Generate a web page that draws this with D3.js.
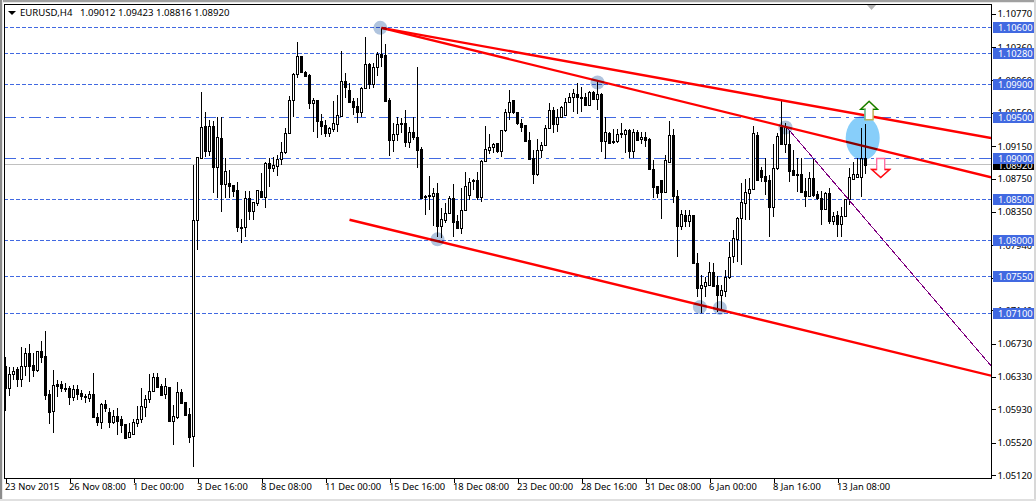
<!DOCTYPE html>
<html><head><meta charset="utf-8">
<style>
html,body{margin:0;padding:0;background:#fff;overflow:hidden}
svg{display:block}
text{font-family:"Noto Sans","Liberation Sans",sans-serif;font-size:10px}
</style>
<script src="https://cdn.jsdelivr.net/npm/d3@7"></script>
</head><body><svg id="c" width="1036" height="501"></svg>
<script>
const symbolTitle = "EURUSD,H4";
const ohlcTitle = "1.09012 1.09423 1.08816 1.08920";

const opens = [
1.06459,1.06186,1.06357,1.06418,1.06304,1.06459,1.06614,1.06471,1.06410,1.06638,1.06581,1.06116,
1.05912,1.06239,1.06235,1.06194,1.06186,1.06084,1.06173,1.06129,1.06092,1.06071,1.06116,1.05831,
1.05778,1.05994,1.05892,1.05778,1.05843,1.05814,1.05749,1.05586,1.05627,1.05765,1.05806,1.05961,
1.06051,1.06149,1.06320,1.06214,1.06112,1.06198,1.05790,1.05839,1.06141,1.06014,1.05871,1.05601,
1.08247,1.0901,1.0940,1.0909,1.0940,1.0889,1.0925,1.0869,1.0870,1.0868,1.0861,1.0816,
1.0816,1.0852,1.0836,1.0845,1.0860,1.0853,1.0894,1.0888,1.0891,1.0899,1.0908,1.0931,
1.0972,1.1003,1.1026,1.1006,1.1002,1.0968,1.0972,1.0946,1.0941,1.0931,1.0936,1.0942,
1.0952,1.0995,1.0984,1.0970,1.0964,1.0957,1.0986,1.1016,1.0991,1.1012,1.1028,1.1027,
1.0972,1.0923,1.0930,1.0942,1.0943,1.0920,1.0932,1.0926,1.0912,1.0854,1.0855,1.0854,
1.0858,1.0817,1.0825,1.0833,1.0852,1.0823,1.0815,1.0837,1.0855,1.0872,1.0874,1.0853,
1.0897,1.0910,1.0914,1.0919,1.0909,1.0935,1.0957,1.0972,1.0957,1.0943,1.0941,1.0923,
1.0901,1.0881,1.0910,1.0916,1.0937,1.0960,1.0942,1.0951,1.0953,1.0969,1.0975,1.0979,
1.0975,1.0975,1.0966,1.0981,1.0973,1.0979,1.0921,1.0931,1.0921,1.0921,1.0930,1.0930,
1.0935,1.0909,1.0932,1.0924,1.0926,1.0924,1.0887,1.0866,1.0874,1.0859,1.0896,1.0929,
1.0854,1.0817,1.0831,1.0823,1.0831,1.0772,1.0741,1.0744,1.0745,1.0761,1.0745,1.0733,
1.0738,1.0755,1.0781,1.0801,1.0827,1.0845,1.0858,1.0863,1.0929,1.0886,1.0878,1.0874,
1.0841,1.0888,1.0938,1.0918,1.0918,1.0886,1.0881,1.0881,1.0860,1.0854,1.0876,1.0857,
1.0852,1.0838,1.0858,1.0823,1.0831,1.0820,1.0829,1.0850,1.0875,1.0877,1.0877,1.09012];

const highs = [
1.06565,1.06451,1.06451,1.06451,1.06687,1.06675,1.06728,1.06614,1.06638,1.06761,1.06887,1.06165,
1.06410,1.06288,1.06275,1.06247,1.06214,1.06226,1.06222,1.06165,1.06116,1.06157,1.06377,1.05880,
1.06002,1.06043,1.05941,1.05920,1.05941,1.05847,1.05749,1.05757,1.05806,1.05969,1.06186,1.06104,
1.06361,1.06369,1.06377,1.06239,1.06308,1.06198,1.05982,1.06263,1.06173,1.06014,1.05941,1.08920,
1.09018,1.0981,1.0957,1.0947,1.0946,1.0951,1.0951,1.0901,1.0886,1.0868,1.0871,1.0826,
1.0860,1.0860,1.0847,1.0861,1.0882,1.0896,1.0901,1.0902,1.0904,1.0920,1.0937,1.0977,
1.1005,1.1043,1.1026,1.1007,1.1003,1.0974,1.0972,1.0955,1.0947,1.0938,1.0970,1.0978,
1.1032,1.1005,1.0992,1.0974,1.0974,1.0988,1.1049,1.1017,1.1017,1.1030,1.1060,1.1040,
1.0974,1.0943,1.0951,1.0949,1.0959,1.0938,1.0951,1.1012,1.0914,1.0855,1.0878,1.0864,
1.0870,1.0839,1.0845,1.0854,1.0869,1.0831,1.0864,1.0883,1.0876,1.0875,1.0883,1.0898,
1.0940,1.0930,1.0919,1.0919,1.0935,1.0961,1.0984,1.0972,1.0957,1.0948,1.0941,1.0933,
1.0910,1.0924,1.0920,1.0941,1.0968,1.0963,1.0961,1.0964,1.0974,1.0980,1.0985,1.0992,
1.0988,1.0980,1.0983,1.0983,1.0996,1.0980,1.0951,1.0933,1.0936,1.0936,1.0944,1.0936,
1.0936,1.0936,1.0935,1.0932,1.0932,1.0925,1.0898,1.0866,1.0874,1.0904,1.0946,1.0936,
1.0861,1.0837,1.0837,1.0837,1.0831,1.0784,1.0757,1.0755,1.0773,1.0772,1.0756,1.0745,
1.0763,1.0798,1.0812,1.0828,1.0870,1.0875,1.0876,1.0940,1.0933,1.0889,1.0901,1.0880,
1.0918,1.0931,1.0970,1.0943,1.0935,1.0910,1.0901,1.0901,1.0876,1.0883,1.0901,1.0860,
1.0860,1.0859,1.0864,1.0834,1.0836,1.0841,1.0850,1.0888,1.0896,1.0901,1.0937,1.09423];

const lows = [
1.05912,1.06092,1.06288,1.06206,1.06206,1.06337,1.06267,1.06328,1.06386,1.06500,1.06043,1.05749,
1.05643,1.06084,1.06145,1.06145,1.05982,1.06035,1.06043,1.06043,1.06002,1.06022,1.05818,1.05725,
1.05684,1.05900,1.05696,1.05749,1.05614,1.05635,1.05565,1.05586,1.05614,1.05716,1.05765,1.05839,
1.06010,1.06145,1.06190,1.06092,1.06051,1.05778,1.05492,1.05806,1.06002,1.05863,1.05521,1.05222,
1.07879,1.0901,1.0902,1.0903,1.0858,1.0852,1.0834,1.0852,1.0852,1.0853,1.0810,1.0796,
1.0804,1.0825,1.0825,1.0842,1.0853,1.0839,1.0865,1.0883,1.0878,1.0892,1.0905,1.0931,
1.0951,1.0999,1.1006,1.1000,1.0961,1.0932,1.0925,1.0929,1.0926,1.0926,1.0932,1.0932,
1.0951,1.0974,1.0968,1.0953,1.0944,1.0951,1.0985,1.0985,1.0986,1.1001,1.1012,1.0969,
1.0903,1.0908,1.0921,1.0931,1.0914,1.0913,1.0923,1.0888,1.0852,1.0831,1.0837,1.0817,
1.0804,1.0803,1.0821,1.0832,1.0804,1.0814,1.0807,1.0836,1.0849,1.0861,1.0849,1.0847,
1.0897,1.0905,1.0907,1.0907,1.0902,1.0933,1.0947,1.0955,1.0941,1.0932,1.0921,1.0899,
1.0869,1.0878,1.0901,1.0915,1.0937,1.0931,1.0933,1.0951,1.0953,1.0968,1.0957,1.0955,
1.0957,1.0966,1.0966,1.0973,1.0959,1.0908,1.0899,1.0918,1.0918,1.0919,1.0925,1.0907,
1.0901,1.0901,1.0923,1.0918,1.0914,1.0886,1.0852,1.0852,1.0826,1.0859,1.0896,1.0845,
1.0779,1.0812,1.0816,1.0816,1.0771,1.0730,1.0711,1.0730,1.0745,1.0743,1.0712,1.0716,
1.0730,1.0753,1.0772,1.0773,1.0770,1.0825,1.0825,1.0863,1.0874,1.0871,1.0855,1.0804,
1.0828,1.0886,1.0918,1.0907,1.0871,1.0878,1.0859,1.0858,1.0841,1.0853,1.0853,1.0849,
1.0818,1.0838,1.0820,1.0818,1.0804,1.0804,1.0828,1.0843,1.0875,1.0877,1.0853,1.08816];

const closes = [
1.06186,1.06357,1.06402,1.06304,1.06459,1.06614,1.06459,1.06410,1.06638,1.06573,1.06104,1.05900,
1.06222,1.06214,1.06186,1.06182,1.06084,1.06178,1.06120,1.06096,1.06075,1.06112,1.05831,1.05778,
1.05990,1.05949,1.05778,1.05843,1.05790,1.05741,1.05578,1.05647,1.05769,1.05806,1.05965,1.06051,
1.06149,1.06320,1.06198,1.06104,1.06210,1.05790,1.05843,1.06137,1.06010,1.05863,1.05594,1.08247,
1.09018,1.0938,1.0909,1.0940,1.0889,1.0926,1.0869,1.0885,1.0866,1.0860,1.0816,1.0815,
1.0852,1.0836,1.0847,1.0861,1.0853,1.0894,1.0888,1.0892,1.0899,1.0908,1.0931,1.0972,
1.1003,1.1026,1.1006,1.1001,1.0968,1.0972,1.0946,1.0940,1.0931,1.0937,1.0943,1.0953,
1.0995,1.0988,1.0969,1.0963,1.0957,1.0986,1.1016,1.0991,1.1012,1.1028,1.1024,1.0970,
1.0923,1.0930,1.0942,1.0943,1.0920,1.0932,1.0926,1.0910,1.0852,1.0853,1.0854,1.0858,
1.0817,1.0826,1.0833,1.0852,1.0822,1.0815,1.0837,1.0866,1.0871,1.0874,1.0853,1.0897,
1.0912,1.0914,1.0918,1.0909,1.0935,1.0957,1.0969,1.0957,1.0943,1.0938,1.0921,1.0899,
1.0881,1.0910,1.0916,1.0937,1.0960,1.0942,1.0951,1.0963,1.0969,1.0975,1.0980,1.0975,
1.0974,1.0966,1.0981,1.0973,1.0979,1.0921,1.0932,1.0919,1.0920,1.0930,1.0931,1.0935,
1.0909,1.0932,1.0923,1.0926,1.0923,1.0887,1.0865,1.0858,1.0859,1.0898,1.0929,1.0854,
1.0817,1.0832,1.0823,1.0831,1.0772,1.0741,1.0745,1.0749,1.0761,1.0744,1.0733,1.0739,
1.0755,1.0779,1.0803,1.0827,1.0847,1.0859,1.0863,1.0931,1.0874,1.0877,1.0872,1.0841,
1.0888,1.0927,1.0918,1.0938,1.0885,1.0880,1.0880,1.0859,1.0854,1.0876,1.0855,1.0852,
1.0838,1.0858,1.0823,1.0829,1.0820,1.0829,1.0850,1.0877,1.0881,1.0881,1.0901,1.08920];

const timeLabels = ["23 Nov 2015","26 Nov 08:00","1 Dec 00:00","3 Dec 16:00","8 Dec 08:00","11 Dec 00:00","15 Dec 16:00","18 Dec 08:00","23 Dec 00:00","28 Dec 16:00","31 Dec 08:00","6 Jan 00:00","8 Jan 16:00","13 Jan 08:00"];
const timeTickBars = [0,16,32,48,64,80,96,112,128,144,160,176,192,208];
const priceTicks = [1.1077,1.1036,1.0996,1.0956,1.0915,1.0875,1.0835,1.0794,1.0754,1.0714,1.0673,1.0633,1.0593,1.0552,1.0512];
const dashedLevels = [1.106,1.1028,1.099,1.085,1.08,1.0755,1.071];
const dashDotLevels = [1.095,1.09];
const bidPrice = 1.0892;

// trend lines: [bar index, price] pairs
const redLineA = [[94,1.1060],[246.4,1.0925]];
const redLineB = [[94,1.1060],[246.4,1.0877]];
const redLineC = [[86,1.0825],[246.4,1.0634]];
const purpleLine = [[195,1.0940],[246.4,1.0646]];
const touchBars = [93.7,148,108,173.6,178.6,195];
const touchPrices = [1.1060,1.0993,1.0801,1.0718,1.0717,1.0938];
const ellipseBar = 214.3, ellipsePrice = 1.0925;

const W = 1036, H = 501;
const plotL = 4, plotR = 991, plotT = 4, plotB = 478;
const x = d3.scaleLinear().domain([0,246.5]).range([5.5,991.5]);
const y = d3.scaleLinear().domain([1.05,1.11]).range([158.5+0.04*8165,158.5-0.02*8165]);
const px = v => Math.round(y(v));
const lineY = v => Math.floor(y(v)-0.1)+0.5;

const svg = d3.select("#c");
// window chrome
svg.append("rect").attr("width",W).attr("height",H).attr("fill","#fff");
svg.append("rect").attr("width",W).attr("height",2).attr("fill","#a0a0a0");
svg.append("rect").attr("y",2).attr("width",W).attr("height",1).attr("fill","#e8e8e8");
svg.append("rect").attr("width",2).attr("height",H).attr("fill","#8c8c8c");
svg.append("rect").attr("x",2).attr("width",1).attr("height",H).attr("fill","#e8e8e8");
svg.append("rect").attr("x",1034).attr("width",2).attr("height",H).attr("fill","#d8d8d8");
svg.append("rect").attr("y",499).attr("width",W).attr("height",2).attr("fill","#e0e0e0");

const defs = svg.append("defs");
defs.append("clipPath").attr("id","plot").append("rect")
  .attr("x",plotL).attr("y",plotT).attr("width",plotR-plotL).attr("height",plotB-plotT);
const plot = svg.append("g").attr("clip-path","url(#plot)");

// horizontal levels
plot.selectAll(".dash").data(dashedLevels).join("line")
  .attr("x1",plotL).attr("x2",plotR).attr("y1",lineY).attr("y2",lineY)
  .attr("stroke","#4169e1").attr("stroke-width",1).attr("stroke-dasharray","4,2")
  .attr("shape-rendering","crispEdges");
plot.selectAll(".dd").data(dashDotLevels).join("line")
  .attr("x1",plotL).attr("x2",plotR).attr("y1",lineY).attr("y2",lineY)
  .attr("stroke","#4169e1").attr("stroke-width",1).attr("stroke-dasharray","12,5,3,5")
  .attr("shape-rendering","crispEdges");
plot.append("line").attr("x1",plotL).attr("x2",plotR)
  .attr("y1",lineY(bidPrice)).attr("y2",lineY(bidPrice)).attr("stroke","#c0c0c0").attr("shape-rendering","crispEdges");

// candles
const bars = d3.range(opens.length);
const cg = plot.append("g").attr("shape-rendering","crispEdges");
cg.selectAll(".wick").data(bars).join("line")
  .attr("x1",i=>x(i)).attr("x2",i=>x(i))
  .attr("y1",i=>px(highs[i])).attr("y2",i=>px(lows[i]))
  .attr("stroke","#000");
cg.selectAll(".body").data(bars).join("rect")
  .attr("x",i=>x(i)-1.5).attr("width",3)
  .attr("y",i=>px(Math.max(opens[i],closes[i])))
  .attr("height",i=>Math.max(1,px(Math.min(opens[i],closes[i]))-px(Math.max(opens[i],closes[i]))+1))
  .attr("fill","#000");
cg.selectAll(".hollow").data(bars.filter(i=>closes[i]>opens[i] && px(opens[i])-px(closes[i])>=2)).join("rect")
  .attr("x",i=>x(i)-0.5).attr("width",1)
  .attr("y",i=>px(closes[i])+1)
  .attr("height",i=>px(opens[i])-px(closes[i])-1)
  .attr("fill","#fff");

// trend lines
const lineGen = d3.line().x(d=>x(d[0])).y(d=>y(d[1]));
plot.append("path").attr("d",lineGen(purpleLine)).attr("fill","none").attr("stroke","#800080").attr("stroke-width",1).attr("shape-rendering","crispEdges");
[redLineA,redLineB,redLineC].forEach(l=>{
  plot.append("path").attr("d",lineGen(l)).attr("fill","none").attr("stroke","#ff0000").attr("stroke-width",2.4);
});

// highlights
plot.selectAll(".touch").data(touchBars).join("circle")
  .attr("cx",d=>x(d)).attr("cy",(d,i)=>y(touchPrices[i])).attr("r",7)
  .attr("fill","#b0c4de").style("mix-blend-mode","multiply");
plot.append("ellipse").attr("cx",x(ellipseBar)).attr("cy",y(ellipsePrice)).attr("rx",17).attr("ry",22)
  .attr("fill","#87cefa").style("mix-blend-mode","multiply");

// arrows
const arrowUpBar = 215.9, arrowDownBar = 218.8;
const ux = x(arrowUpBar), dx = x(arrowDownBar);
const upTop = y(1.0970), downBase = y(1.0900);
plot.append("path")
  .attr("d",`M${ux},${upTop}l8.5,8h-4.5v10.5h-8v-10.5h-4.5z`)
  .attr("fill","#fff").attr("stroke","#c2b25a").attr("stroke-width",1.5);
plot.append("path")
  .attr("d",`M${ux-4},${upTop+18.5}v-10.5h-4.5l8.5,-8l8.5,8h-4.5`)
  .attr("fill","none").attr("stroke","#008000").attr("stroke-width",1.2);
plot.append("path")
  .attr("d",`M${ux-4},${upTop+18.5}v-10.5`).attr("fill","none").attr("stroke","#a8d8e8").attr("stroke-width",1.2);
plot.append("path")
  .attr("d",`M${dx-4},${downBase}h8v11h5l-9,8l-9,-8h5z`)
  .attr("fill","#fff").attr("stroke","#ff69a0").attr("stroke-width",1.3);
plot.append("path")
  .attr("d",`M${dx+4},${downBase+11}h5l-9,8l-9,-8h5`)
  .attr("fill","none").attr("stroke","#ff1010").attr("stroke-width",1.4);

// shift marker
svg.append("path").attr("d","M867,5h9l-4.5,5z").attr("fill","#b4b4b4");

// frame
svg.append("g").attr("shape-rendering","crispEdges").call(g=>{
  g.append("line").attr("x1",plotL).attr("x2",plotR+1).attr("y1",plotT+.5).attr("y2",plotT+.5).attr("stroke","#000");
  g.append("line").attr("x1",plotL+.5).attr("x2",plotL+.5).attr("y1",plotT).attr("y2",plotB).attr("stroke","#000");
});

// axes
const axR = d3.axisRight(y).tickValues(priceTicks).tickFormat(d3.format(".5f")).tickSize(4).tickPadding(2);
const gR = svg.append("g").attr("transform",`translate(${plotR+.5},0)`).attr("shape-rendering","crispEdges").call(axR);
gR.select(".domain").attr("d",`M0,${plotT}V${plotB+1}`).attr("stroke","#000");
gR.selectAll(".tick text").attr("fill","#000");

const axB = d3.axisBottom(x).tickValues(timeTickBars).tickFormat((d,i)=>timeLabels[i]).tickSize(4).tickPadding(1);
const gB = svg.append("g").attr("transform",`translate(0,${plotB+.5})`).attr("shape-rendering","crispEdges").call(axB);
gB.select(".domain").attr("d",`M${plotL},0H${plotR+1}`).attr("stroke","#000");
gB.selectAll(".tick text").attr("text-anchor","start").attr("x",-1).attr("fill","#000");

svg.selectAll("text").style("font-family",'"Noto Sans","Liberation Sans",sans-serif').style("font-size","9.4px");

// bid tag then level tags
const tagG = svg.append("g");
tagG.append("rect").attr("x",993).attr("y",159).attr("width",41).attr("height",11).attr("fill","#000").attr("shape-rendering","crispEdges");
tagG.append("text").attr("x",998).attr("y",y(bidPrice)+3.5).attr("fill","#fff").text(d3.format(".5f")(bidPrice)).style("font-size","9.4px");
const tags = dashedLevels.concat(dashDotLevels);
tagG.selectAll(".tagr").data(tags).join("rect")
  .attr("x",993).attr("width",41).attr("height",11)
  .attr("y",d=>Math.floor(lineY(d))-5).attr("fill","#4169e1").attr("shape-rendering","crispEdges");
tagG.selectAll(".tagt").data(tags).join("text")
  .attr("x",998).attr("y",d=>Math.floor(lineY(d))+4).attr("fill","#fff")
  .text(d3.format(".5f")).style("font-size","9.4px");

// title
svg.append("path").attr("d","M8,11h8l-4,4z").attr("fill","#000");
svg.append("text").attr("x",20).attr("y",16).attr("fill","#000").text(symbolTitle).style("font-size","9.6px");
svg.append("text").attr("x",80).attr("y",16).attr("fill","#000").text(ohlcTitle).style("font-size","9.6px");
</script></body></html>
